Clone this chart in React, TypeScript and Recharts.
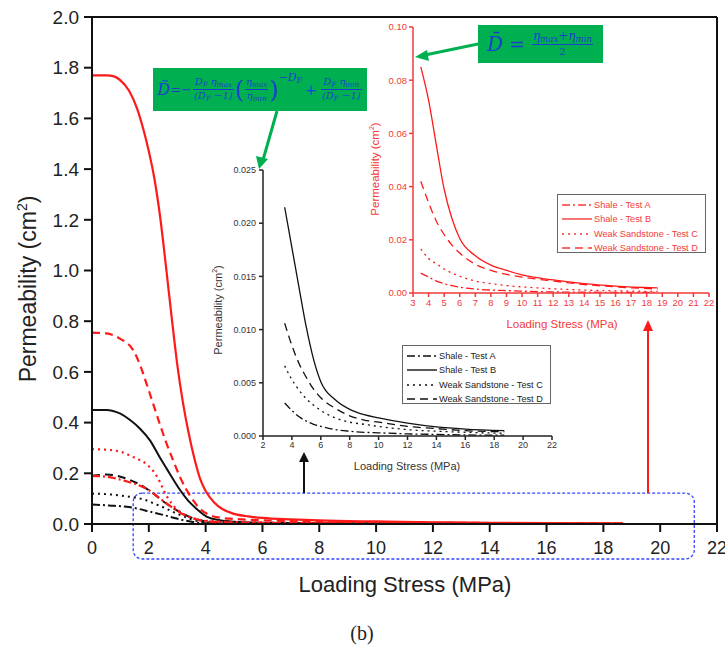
import React from 'react';
import {
  LineChart,
  Line,
  XAxis,
  YAxis,
  ReferenceLine,
  ReferenceArea,
  Label,
} from 'recharts';

// Main plot: permeability vs loading stress, [stress MPa, permeability cm2]
const shaleA: [number, number][] = [
  [0, 0.077], [0.6, 0.073], [1.3, 0.067], [2.1, 0.047], [2.5, 0.036], [2.9, 0.024],
  [3.3, 0.013], [3.76, 0.005], [4.3, 0.002], [5, 0.0012], [6, 0.001], [8, 0.0008],
  [10, 0.0006], [14, 0.0005],
];
const shaleB: [number, number][] = [
  [0, 0.45], [0.5, 0.45], [1.0, 0.435], [1.34, 0.41], [1.7, 0.375], [2.04, 0.33],
  [2.4, 0.26], [2.7, 0.205], [3.1, 0.134], [3.4, 0.09], [3.7, 0.058], [4.05, 0.028],
  [4.5, 0.015], [5, 0.009], [6, 0.005], [8, 0.003], [10, 0.002], [14, 0.0012],
];
const sandC: [number, number][] = [
  [0, 0.12], [0.6, 0.117], [1.16, 0.11], [1.87, 0.095], [2.2, 0.08], [2.57, 0.063],
  [2.9, 0.045], [3.27, 0.028], [3.77, 0.01], [4.3, 0.005], [5, 0.003], [6, 0.002],
  [8, 0.0015], [10, 0.001], [14, 0.0008],
];
const sandD: [number, number][] = [
  [0, 0.19], [0.5, 0.195], [0.9, 0.19], [1.3, 0.175], [1.7, 0.155], [2.1, 0.125],
  [2.5, 0.09], [2.9, 0.06], [3.3, 0.035], [3.7, 0.018], [4.1, 0.009], [5, 0.004],
  [6, 0.003], [8, 0.002], [10, 0.0015], [14, 0.001],
];
const avgShaleA: [number, number][] = [
  [0, 0.19], [0.6, 0.185], [1.16, 0.17], [1.6, 0.155], [2.0, 0.134], [2.4, 0.1],
  [2.8, 0.067], [3.1, 0.045], [3.45, 0.026], [3.8, 0.015], [4.2, 0.009], [5, 0.006],
  [6, 0.004], [8, 0.003], [10, 0.002], [14, 0.0015], [18.7, 0.001],
];
const avgShaleB: [number, number][] = [
  [0, 1.77], [0.5, 1.77], [0.8, 1.765], [1.0, 1.75], [1.3, 1.71], [1.6, 1.635],
  [1.8, 1.56], [2.0, 1.47], [2.2, 1.36], [2.4, 1.21], [2.6, 1.02], [2.8, 0.82],
  [3.0, 0.63], [3.2, 0.48], [3.4, 0.36], [3.6, 0.26], [3.8, 0.18], [4.0, 0.13],
  [4.3, 0.085], [4.6, 0.058], [5.0, 0.04], [5.5, 0.03], [6, 0.024], [7, 0.018],
  [8, 0.014], [10, 0.01], [12, 0.007], [14, 0.005], [16, 0.004], [18.7, 0.003],
];
const avgSandC: [number, number][] = [
  [0, 0.295], [0.5, 0.293], [1, 0.285], [1.45, 0.264], [1.93, 0.235], [2.15, 0.21],
  [2.3, 0.185], [2.63, 0.11], [3.0, 0.057], [3.3, 0.035], [3.6, 0.022], [4, 0.013],
  [5, 0.008], [6, 0.006], [8, 0.004], [10, 0.003], [14, 0.002], [18.7, 0.0015],
];
const avgSandD: [number, number][] = [
  [0, 0.755], [0.5, 0.752], [1.0, 0.73], [1.45, 0.686], [1.7, 0.625], [1.93, 0.55],
  [2.15, 0.475], [2.4, 0.39], [2.6, 0.325], [2.86, 0.25], [3.1, 0.185], [3.3, 0.14],
  [3.55, 0.095], [3.8, 0.06], [4.1, 0.037], [4.5, 0.025], [5, 0.02], [6, 0.015],
  [8, 0.009], [10, 0.006], [12, 0.005], [14, 0.004], [16, 0.003], [18.7, 0.002],
];

const mainStressTicks = [0, 2, 4, 6, 8, 10, 12, 14, 16, 18, 20, 22];
const mainPermTicks = [0, 0.2, 0.4, 0.6, 0.8, 1.0, 1.2, 1.4, 1.6, 1.8, 2.0];

// Zoomed insets share one stress grid
const insetStress = [3.5, 4, 4.5, 5, 5.5, 6, 7, 8, 9, 10, 12, 14, 16, 18.7];
const fracShaleA = [0.0031, 0.0024, 0.0018, 0.0014, 0.0011, 0.0009, 0.0006, 0.00045, 0.00035, 0.0003, 0.0002, 0.00015, 0.0001, 0.00008];
const fracShaleB = [0.0215, 0.0177, 0.0139, 0.0102, 0.0072, 0.0051, 0.0034, 0.0025, 0.002, 0.0017, 0.0012, 0.00085, 0.00065, 0.0005];
const fracSandC = [0.0066, 0.0053, 0.0043, 0.0035, 0.0029, 0.0024, 0.0017, 0.0013, 0.0011, 0.0009, 0.0006, 0.00045, 0.00035, 0.00025];
const fracSandD = [0.0106, 0.0085, 0.0068, 0.0055, 0.0044, 0.0036, 0.0026, 0.0019, 0.0015, 0.0013, 0.0009, 0.0007, 0.0005, 0.0004];
const meanShaleA = [0.0075, 0.006, 0.0045, 0.0035, 0.0028, 0.0022, 0.0015, 0.0011, 0.0009, 0.0007, 0.0004, 0.0003, 0.00025, 0.0002];
const meanShaleB = [0.085, 0.0725, 0.0555, 0.039, 0.028, 0.0205, 0.014, 0.0105, 0.0085, 0.0068, 0.0049, 0.0035, 0.0026, 0.0019];
const meanSandC = [0.0165, 0.013, 0.011, 0.009, 0.0075, 0.0063, 0.0045, 0.0035, 0.0028, 0.0023, 0.0016, 0.0011, 0.0008, 0.0006];
const meanSandD = [0.042, 0.034, 0.027, 0.022, 0.018, 0.015, 0.0108, 0.0085, 0.007, 0.006, 0.0045, 0.0032, 0.0023, 0.0015];

const fracStressTicks = [2, 4, 6, 8, 10, 12, 14, 16, 18, 20, 22];
const fracPermTicks = [0, 0.005, 0.01, 0.015, 0.02, 0.025];
const meanStressTicks = [3, 4, 5, 6, 7, 8, 9, 10, 11, 12, 13, 14, 15, 16, 17, 18, 19, 20, 21, 22];
const meanPermTicks = [0, 0.02, 0.04, 0.06, 0.08, 0.1];

const legendNames = ['Shale - Test A', 'Shale - Test B', 'Weak Sandstone - Test C', 'Weak Sandstone - Test D'];

const DASH = ['8 3 2 3', undefined, '2 4', '8 5'];
const RED = '#ff1a1a';
const INSET_RED = '#f23a3a';
const GREEN = '#00b050';
const MATH = '#1b3fd0';
const SANS = '"Liberation Sans", Arial, sans-serif';

const pairs = (pts: [number, number][]) => pts.map(([x, y]) => ({ x, y }));
const zip = (ys: number[]) => insetStress.map((x, i) => ({ x, y: ys[i] }));

function MainChart() {
  const black = [shaleA, shaleB, sandC, sandD];
  const red = [avgShaleA, avgShaleB, avgSandC, avgSandD];
  return (
    <LineChart width={725} height={659} margin={{ top: 17, right: 8, left: 32, bottom: 105 }}>
      <XAxis
        type="number"
        dataKey="x"
        domain={[0, 22]}
        ticks={mainStressTicks}
        interval={0}
        allowDataOverflow
        stroke="#111"
        strokeWidth={2}
        tickSize={8}
        tickMargin={9}
        height={30}
        tick={{ fontSize: 18, fill: '#222', fontFamily: SANS }}
        tickLine={{ stroke: '#111', strokeWidth: 2 }}
      >
        <Label
          content={() => (
            <text x={405} y={592} textAnchor="middle" fontSize={22} fill="#222" fontFamily={SANS}>
              Loading Stress (MPa)
            </text>
          )}
        />
      </XAxis>
      <YAxis
        type="number"
        dataKey="y"
        domain={[0, 2]}
        ticks={mainPermTicks}
        interval={0}
        width={60}
        stroke="#111"
        strokeWidth={2}
        tickSize={8}
        tickMargin={5}
        tickFormatter={(v: number) => v.toFixed(1)}
        tick={{ fontSize: 19, fill: '#222', fontFamily: SANS }}
        tickLine={{ stroke: '#111', strokeWidth: 2 }}
      >
        <Label
          content={() => (
            <text
              transform="translate(36 289) rotate(-90)"
              textAnchor="middle"
              fontSize={23}
              fill="#222"
              fontFamily={SANS}
            >
              Permeability (cm<tspan dy={-9} fontSize={14}>2</tspan><tspan dy={9}>)</tspan>
            </text>
          )}
        />
      </YAxis>
      <ReferenceLine y={2} stroke="#111" strokeWidth={2} />
      <ReferenceLine x={22} stroke="#111" strokeWidth={2} />
      <ReferenceArea
        x1={1.45}
        x2={21.2}
        y1={-0.138}
        y2={0.122}
        ifOverflow="visible"
        shape={(p: any) => (
          <rect
            x={p.x}
            y={p.y}
            width={p.width}
            height={p.height}
            rx={9}
            fill="none"
            stroke="#3344ff"
            strokeWidth={1.3}
            strokeDasharray="3 2"
          />
        )}
      />
      {black.map((s, i) => (
        <Line
          key={`b${i}`}
          data={pairs(s)}
          dataKey="y"
          type="monotone"
          stroke="#111"
          strokeWidth={2}
          strokeDasharray={DASH[i]}
          dot={false}
          isAnimationActive={false}
        />
      ))}
      {red.map((s, i) => (
        <Line
          key={`r${i}`}
          data={pairs(s)}
          dataKey="y"
          type="monotone"
          stroke={RED}
          strokeWidth={2.2}
          strokeDasharray={DASH[i]}
          dot={false}
          isAnimationActive={false}
        />
      ))}
    </LineChart>
  );
}

function LegendBox({ color, left, top }: { color: string; left: number; top: number }) {
  return (
    <div
      style={{
        position: 'absolute',
        left,
        top,
        width: 149,
        height: 59,
        border: '1px solid #666',
        background: '#fff',
        fontFamily: SANS,
        fontSize: 9.2,
        color: color === '#111' ? '#222' : color,
        boxSizing: 'border-box',
        paddingTop: 3,
      }}
    >
      {legendNames.map((name, i) => (
        <div key={name} style={{ display: 'flex', alignItems: 'center', height: 14.3, whiteSpace: 'nowrap' }}>
          <svg width={35} height={8} style={{ marginLeft: 1 }}>
            <line
              x1={3}
              x2={33}
              y1={4}
              y2={4}
              stroke={color}
              strokeWidth={1.4}
              strokeDasharray={DASH[i]}
            />
          </svg>
          <span>{name}</span>
        </div>
      ))}
    </div>
  );
}

function FractalInset() {
  const series = [fracShaleA, fracShaleB, fracSandC, fracSandD];
  return (
    <div style={{ position: 'absolute', left: 200, top: 150 }}>
      <LineChart width={360} height={330} margin={{ top: 20, right: 8, left: 18, bottom: 24 }}>
        <XAxis
          type="number"
          dataKey="x"
          domain={[2, 22]}
          ticks={fracStressTicks}
          interval={0}
          height={20}
          stroke="#222"
          strokeWidth={1.5}
          tickSize={4}
          tickMargin={2}
          tick={{ fontSize: 9, fill: '#333', fontFamily: SANS }}
        >
          <Label
            content={() => (
              <text x={207} y={320} textAnchor="middle" fontSize={11} fill="#333" fontFamily={SANS}>
                Loading Stress (MPa)
              </text>
            )}
          />
        </XAxis>
        <YAxis
          type="number"
          dataKey="y"
          domain={[0, 0.025]}
          ticks={fracPermTicks}
          interval={0}
          width={45}
          stroke="#222"
          strokeWidth={1.5}
          tickSize={4}
          tickMargin={3}
          tickFormatter={(v: number) => v.toFixed(3)}
          tick={{ fontSize: 9, fill: '#333', fontFamily: SANS }}
        >
          <Label
            content={() => (
              <text
                transform="translate(22 160) rotate(-90)"
                textAnchor="middle"
                fontSize={11}
                fill="#333"
                fontFamily={SANS}
              >
                Permeability (cm<tspan dy={-5} fontSize={7}>2</tspan><tspan dy={5}>)</tspan>
              </text>
            )}
          />
        </YAxis>
        {series.map((s, i) => (
          <Line
            key={i}
            data={zip(s)}
            dataKey="y"
            type="monotone"
            stroke="#111"
            strokeWidth={1.3}
            strokeDasharray={DASH[i]}
            dot={false}
            isAnimationActive={false}
          />
        ))}
      </LineChart>
    </div>
  );
}

function MeanInset() {
  const series = [meanShaleA, meanShaleB, meanSandC, meanSandD];
  return (
    <div style={{ position: 'absolute', left: 360, top: 0 }}>
      <LineChart width={365} height={335} margin={{ top: 27, right: 16, left: 18, bottom: 22 }}>
        <XAxis
          type="number"
          dataKey="x"
          domain={[3, 22]}
          ticks={meanStressTicks}
          interval={0}
          height={20}
          stroke={INSET_RED}
          strokeWidth={1.5}
          tickSize={4}
          tickMargin={2}
          tick={{ fontSize: 9.5, fill: INSET_RED, fontFamily: SANS }}
          tickLine={{ stroke: INSET_RED }}
        >
          <Label
            content={() => (
              <text x={202} y={328} textAnchor="middle" fontSize={11.5} fill={INSET_RED} fontFamily={SANS}>
                Loading Stress (MPa)
              </text>
            )}
          />
        </XAxis>
        <YAxis
          type="number"
          dataKey="y"
          domain={[0, 0.1]}
          ticks={meanPermTicks}
          interval={0}
          width={35}
          stroke={INSET_RED}
          strokeWidth={1.5}
          tickSize={4}
          tickMargin={2}
          tickFormatter={(v: number) => v.toFixed(2)}
          tick={{ fontSize: 9.5, fill: INSET_RED, fontFamily: SANS }}
          tickLine={{ stroke: INSET_RED }}
        >
          <Label
            content={() => (
              <text
                transform="translate(19 169) rotate(-90)"
                textAnchor="middle"
                fontSize={11.5}
                fill={INSET_RED}
                fontFamily={SANS}
              >
                Permeability (cm<tspan dy={-5} fontSize={7}>2</tspan><tspan dy={5}>)</tspan>
              </text>
            )}
          />
        </YAxis>
        {series.map((s, i) => (
          <Line
            key={i}
            data={zip(s)}
            dataKey="y"
            type="monotone"
            stroke={RED}
            strokeWidth={1.3}
            strokeDasharray={DASH[i]}
            dot={false}
            isAnimationActive={false}
          />
        ))}
      </LineChart>
    </div>
  );
}

function Frac({ num, den, size }: { num: React.ReactNode; den: React.ReactNode; size: number }) {
  return (
    <span
      style={{
        display: 'inline-flex',
        flexDirection: 'column',
        alignItems: 'center',
        verticalAlign: 'middle',
        fontSize: size,
        lineHeight: 1.1,
        margin: '0 1px',
      }}
    >
      <span style={{ padding: '0 1px' }}>{num}</span>
      <span style={{ borderTop: `1px solid ${MATH}`, padding: '0 1px', alignSelf: 'stretch', textAlign: 'center' }}>{den}</span>
    </span>
  );
}

const Sub = ({ children }: { children: React.ReactNode }) => (
  <sub style={{ fontSize: '0.72em', verticalAlign: '-0.25em' }}>{children}</sub>
);

function FormulaBox({ left, top, width, height, children }: { left: number; top: number; width: number; height: number; children: React.ReactNode }) {
  return (
    <div
      style={{
        position: 'absolute',
        left,
        top,
        width,
        height,
        background: GREEN,
        color: MATH,
        fontFamily: '"DejaVu Serif", "Liberation Serif", serif',
        fontStyle: 'italic',
        display: 'flex',
        alignItems: 'center',
        justifyContent: 'center',
        whiteSpace: 'nowrap',
      }}
    >
      {children}
    </div>
  );
}

function Annotations() {
  return (
    <svg width={725} height={659} style={{ position: 'absolute', left: 0, top: 0, pointerEvents: 'none' }}>
      {/* green pointers from the formula boxes */}
      <line x1={277} y1={111} x2={263} y2={160} stroke={GREEN} strokeWidth={3} />
      <polygon points="259,169 256,156 268,159" fill={GREEN} />
      <line x1={478} y1={44} x2={425} y2={55} stroke={GREEN} strokeWidth={3} />
      <polygon points="415,57 427,50 429,61" fill={GREEN} />
      {/* zoom arrows */}
      <line x1={304} y1={493} x2={304} y2={460} stroke="#111" strokeWidth={2} />
      <polygon points="304,452 299,462 309,462" fill="#111" />
      <line x1={648} y1={493} x2={648} y2={328} stroke={RED} strokeWidth={2} />
      <polygon points="648,320 643,331 653,331" fill={RED} />
      <text x={362} y={640} textAnchor="middle" fontSize={20} fill="#222" fontFamily='"Liberation Serif", serif'>
        (b)
      </text>
    </svg>
  );
}

export default function App() {
  return (
    <div style={{ position: 'absolute', left: 0, top: 0, width: 725, height: 659, background: '#fff', overflow: 'hidden' }}>
      <div style={{ position: 'absolute', left: 0, top: 0 }}>
        <MainChart />
      </div>
      <FractalInset />
      <MeanInset />
      <LegendBox color="#111" left={402} top={345} />
      <LegendBox color={INSET_RED} left={557} top={194} />
      <FormulaBox left={153} top={68} width={214} height={43}>
        <span style={{ fontSize: 16 }}>D̃</span>
        <span style={{ fontSize: 13, fontStyle: 'normal' }}>=−</span>
        <Frac size={10} num={<>D<Sub>F</Sub> η<Sub>max</Sub></>} den={<>(D<Sub>F</Sub> −1)</>} />
        <span style={{ fontSize: 24, fontStyle: 'normal', fontWeight: 200 }}>(</span>
        <Frac size={10} num={<>η<Sub>max</Sub></>} den={<>η<Sub>min</Sub></>} />
        <span style={{ fontSize: 24, fontStyle: 'normal', fontWeight: 200 }}>)</span>
        <span style={{ fontSize: 11, alignSelf: 'flex-start', marginTop: 3 }}>−D<Sub>F</Sub></span>
        <span style={{ fontSize: 14, fontStyle: 'normal', margin: '0 3px' }}>+</span>
        <Frac size={10} num={<>D<Sub>F</Sub> η<Sub>min</Sub></>} den={<>(D<Sub>F</Sub> −1)</>} />
      </FormulaBox>
      <FormulaBox left={478} top={25} width={125} height={38}>
        <span style={{ fontSize: 20 }}>D̄</span>
        <span style={{ fontSize: 19, fontStyle: 'normal', margin: '0 6px' }}>=</span>
        <Frac size={12} num={<>η<Sub>max</Sub>+η<Sub>min</Sub></>} den={<span style={{ fontStyle: 'normal', fontSize: 10 }}>2</span>} />
      </FormulaBox>
      <Annotations />
    </div>
  );
}
